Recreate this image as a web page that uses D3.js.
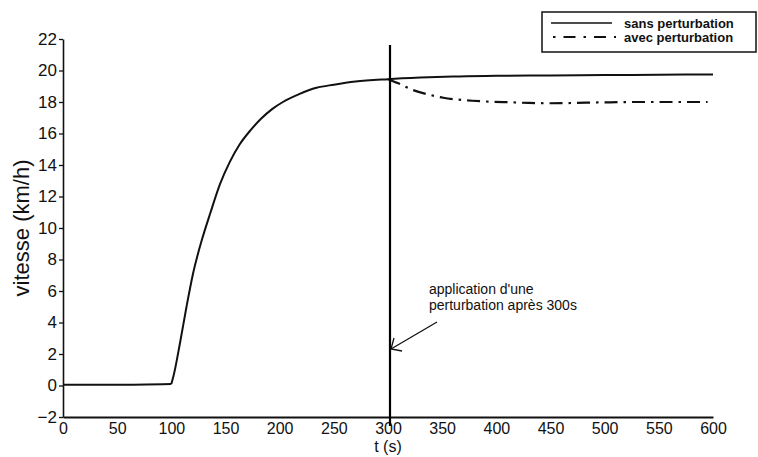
<!DOCTYPE html>
<html><head><meta charset="utf-8">
<script src="https://cdn.jsdelivr.net/npm/d3@7"></script>
<style>
html,body{margin:0;padding:0;background:#fff;}
svg{display:block;font-family:"Liberation Sans",Arial,sans-serif;}
</style>
</head><body>
<svg id="c" width="758" height="457"></svg>
<script>
// Data
const tSans = [0, 50, 100, 102, 108, 114, 120, 128, 136, 145, 154, 163, 173, 183, 193, 203, 218, 234, 250, 270, 300, 330, 360, 400, 450, 500, 550, 600];
const vSans = [0.05, 0.05, 0.1, 0.6, 2.7, 5.0, 7.1, 9.2, 10.95, 12.8, 14.2, 15.3, 16.2, 16.95, 17.55, 18.0, 18.5, 18.9, 19.1, 19.3, 19.45, 19.55, 19.62, 19.66, 19.69, 19.71, 19.73, 19.75];
const tAvec = [300, 309, 323, 337, 351, 365, 378, 395, 413, 430, 447, 465, 483, 505, 530, 560, 588, 595];
const vAvec = [19.45, 19.2, 18.76, 18.48, 18.27, 18.15, 18.08, 18.02, 17.98, 17.94, 17.92, 17.93, 17.96, 17.98, 18.0, 18.0, 18.0, 18.0];
const xTicks = [0, 50, 100, 150, 200, 250, 300, 350, 400, 450, 500, 550, 600];
const yTicks = [-2, 0, 2, 4, 6, 8, 10, 12, 14, 16, 18, 20, 22];
const perturbT = 300;
const legendLabels = ["sans perturbation", "avec perturbation"];
const xLabel = "t (s)";
const yLabel = "vitesse (km/h)";
const annotation = ["application d'une", "perturbation après 300s"];

const svg = d3.select("#c");
const x = d3.scaleLinear().domain([0, 600]).range([63, 713]);
const y = d3.scaleLinear().domain([-2, 22]).range([417, 39]);

// Axes
const gy = svg.append("g").attr("transform", `translate(${x(0)},0)`)
  .call(d3.axisLeft(y).tickValues(yTicks).tickSize(4).tickSizeOuter(0).tickPadding(2).tickFormat(d3.format("d")));
gy.select(".domain").attr("stroke", "#111").attr("stroke-width", 1.6);
gy.selectAll(".tick line").attr("stroke", "#111").attr("stroke-width", 1.3);
gy.selectAll(".tick text").attr("font-size", 17).attr("fill", "#111").attr("font-family", "Liberation Sans, Arial, sans-serif");

const gx = svg.append("g").attr("transform", `translate(0,${y(-2)})`)
  .call(d3.axisBottom(x).tickValues(xTicks).tickSize(0).tickSizeOuter(0).tickPadding(6).tickFormat(d3.format("d")));
gx.select(".domain").attr("stroke", "#111").attr("stroke-width", 1.8);
gx.selectAll(".tick text").attr("font-size", 16).attr("fill", "#111").attr("font-family", "Liberation Sans, Arial, sans-serif");

// Axis labels
svg.append("text").attr("x", x(300)).attr("y", 452).attr("text-anchor", "middle")
  .attr("font-size", 16).attr("fill", "#111").text(xLabel);
svg.append("text").attr("transform", `translate(29,${y(10)}) rotate(-90)`).attr("text-anchor", "middle")
  .attr("font-size", 22).attr("fill", "#111").text(yLabel);

// Curves
const lineSmooth = d3.line().x(d => x(d[0])).y(d => y(d[1])).curve(d3.curveMonotoneX);
const sansFlat = tSans.filter(t => t <= 100).map(t => [t, vSans[tSans.indexOf(t)]]);
const sansRise = tSans.map((t, i) => [t, vSans[i]]).filter(d => d[0] >= 100);
const avec = tAvec.map((t, i) => [t, vAvec[i]]);
svg.append("path").datum(sansFlat).attr("d", lineSmooth).attr("fill", "none")
  .attr("stroke", "#111").attr("stroke-width", 2);
svg.append("path").datum(sansRise).attr("d", lineSmooth).attr("fill", "none")
  .attr("stroke", "#111").attr("stroke-width", 2).attr("stroke-linejoin", "round");
svg.append("path").datum(avec).attr("d", lineSmooth).attr("fill", "none")
  .attr("stroke", "#111").attr("stroke-width", 2.2).attr("stroke-dasharray", "13,6,2.5,6");

// Vertical perturbation line
svg.append("line").attr("x1", x(perturbT) + 2).attr("x2", x(perturbT) + 2)
  .attr("y1", 45).attr("y2", 426).attr("stroke", "#000").attr("stroke-width", 2.2);

// Annotation
const ann = svg.append("text").attr("font-size", 14).attr("fill", "#111");
ann.append("tspan").attr("x", 429).attr("y", 294).text(annotation[0]);
ann.append("tspan").attr("x", 429).attr("y", 310).text(annotation[1]);
const tipX = x(perturbT) + 3, tipY = 349;
svg.append("line").attr("x1", 437).attr("y1", 322).attr("x2", tipX).attr("y2", tipY)
  .attr("stroke", "#111").attr("stroke-width", 1.3);
svg.append("path").attr("d", `M${tipX + 3},${tipY - 11} L${tipX},${tipY} L${tipX + 11},${tipY + 2}`)
  .attr("fill", "none").attr("stroke", "#111").attr("stroke-width", 1.3);

// Legend
const lg = svg.append("g");
lg.append("rect").attr("x", 542).attr("y", 12).attr("width", 214).attr("height", 40)
  .attr("fill", "#fff").attr("stroke", "#111").attr("stroke-width", 1.5);
lg.append("line").attr("x1", 551).attr("x2", 612).attr("y1", 23).attr("y2", 23)
  .attr("stroke", "#111").attr("stroke-width", 1.3);
lg.append("line").attr("x1", 553).attr("x2", 616).attr("y1", 37).attr("y2", 37)
  .attr("stroke", "#111").attr("stroke-width", 2).attr("stroke-dasharray", "2.5,8,12,8");
legendLabels.forEach((l, i) => {
  lg.append("text").attr("x", 624).attr("y", 27.5 + i * 14).attr("font-size", 13)
    .attr("font-weight", "bold").attr("fill", "#111").text(l);
});
</script>
</body></html>
